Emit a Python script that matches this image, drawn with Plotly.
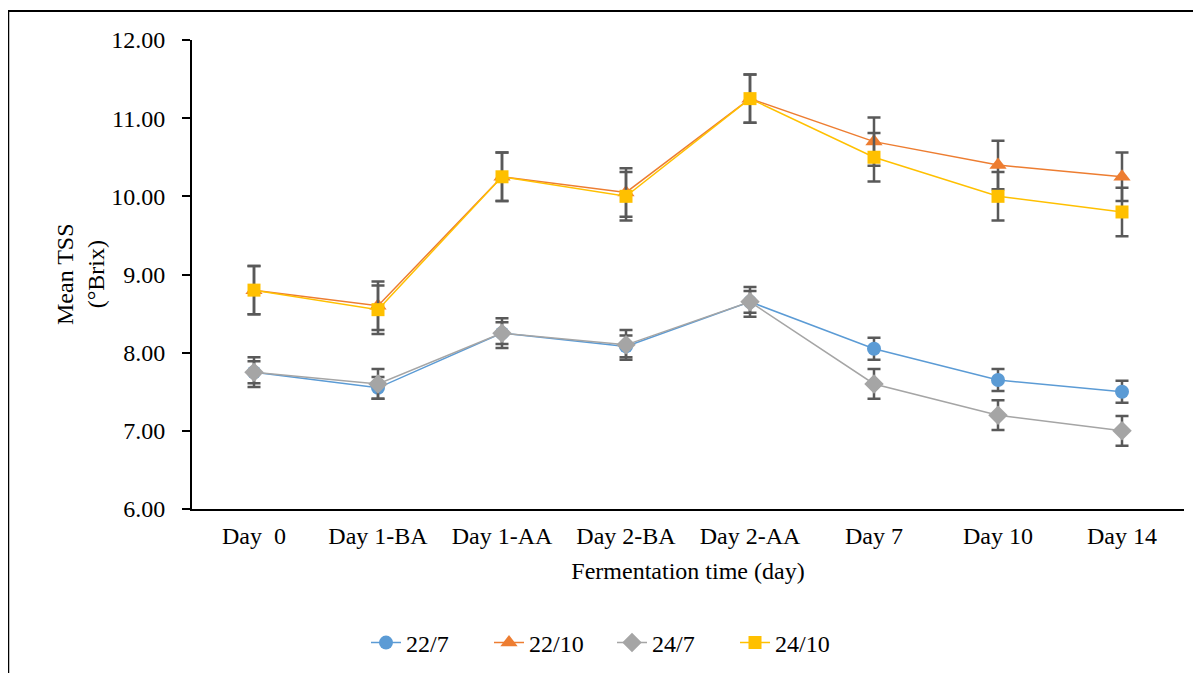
import plotly.graph_objects as go

categories = ["Day  0", "Day 1-BA", "Day 1-AA", "Day 2-BA", "Day 2-AA", "Day 7", "Day 10", "Day 14"]

s22_7 = [7.75, 7.55, 8.25, 8.08, 8.65, 8.05, 7.65, 7.50]
s22_10 = [8.80, 8.60, 10.25, 10.05, 11.25, 10.70, 10.40, 10.25]
s24_7 = [7.75, 7.60, 8.25, 8.10, 8.65, 7.60, 7.20, 7.00]
s24_10 = [8.80, 8.55, 10.25, 10.00, 11.25, 10.50, 10.00, 9.80]

err22_7 = [0.14, 0.14, 0.14, 0.14, 0.14, 0.14, 0.14, 0.14]
err22_10 = [0.31, 0.31, 0.31, 0.31, 0.31, 0.31, 0.31, 0.31]
err24_7 = [0.19, 0.19, 0.19, 0.19, 0.19, 0.19, 0.19, 0.19]
err24_10 = [0.31, 0.31, 0.31, 0.31, 0.31, 0.31, 0.31, 0.31]

series = [
    ("22/7", s22_7, err22_7, "#5B9BD5", "circle", 14),
    ("22/10", s22_10, err22_10, "#ED7D31", "triangle-up", 15),
    ("24/7", s24_7, err24_7, "#A5A5A5", "diamond", 15),
    ("24/10", s24_10, err24_10, "#FFC000", "square", 13),
]

FONT = "Liberation Serif, Times New Roman, serif"
FS = 24

fig = go.Figure()
for name, vals, err, color, sym, size in series:
    fig.add_trace(go.Scatter(
        x=categories, y=vals, name=name, mode="lines+markers",
        line=dict(color=color, width=1.5),
        marker=dict(color=color, symbol=sym, size=size),
        error_y=dict(type="data", array=err, visible=True, color="#595959",
                     thickness=2.5, width=6.5),
    ))

# page body has an 8px margin, so the figure is offset by 8px
OFF = 8
W, H = 1201 - OFF, 673 - OFF
PX0, PX1, PY0, PY1 = 192, 1184, 40, 509  # plot area in reference pixels
L, R, T, B = PX0 - OFF, W - (PX1 - OFF), PY0 - OFF, H - (PY1 - OFF)

def px_x(p):
    return (p - PX0) / (PX1 - PX0)

def px_y(p):
    return (PY1 - p) / (PY1 - PY0)

fig.update_layout(
    width=W, height=H,
    margin=dict(l=L, r=R, t=T, b=B, autoexpand=False),
    paper_bgcolor="white", plot_bgcolor="white",
    font=dict(family=FONT, size=FS, color="black"),
    showlegend=True,
    legend=dict(orientation="h", x=px_x(612), xanchor="center", y=px_y(643), yanchor="middle",
                font=dict(size=FS), traceorder="normal", entrywidth=78),
    xaxis=dict(
        type="category", showgrid=False, showline=True, linecolor="black", linewidth=2,
        ticks="", tickfont=dict(size=FS), range=[-0.5, 7.5],
        title=dict(text="Fermentation time (day)", font=dict(size=FS), standoff=14),
        ticklabelstandoff=4,
    ),
    yaxis=dict(
        range=[6, 12], dtick=1, tickformat=".2f", showgrid=False, zeroline=False,
        showline=True, linecolor="black", linewidth=2,
        ticks="outside", ticklen=8, tickwidth=2, tickcolor="black",
        tickfont=dict(size=FS), ticklabelstandoff=12,
    ),
    annotations=[
        dict(text="Mean TSS<br>(°Brix)", textangle=-90, xref="paper", yref="paper",
             x=px_x(80), y=px_y(274), xanchor="center", yanchor="middle",
             showarrow=False, font=dict(size=FS)),
    ],
    shapes=[
        dict(type="line", xref="paper", yref="paper", x0=px_x(8), x1=px_x(1215),
             y0=px_y(11), y1=px_y(11), line=dict(color="black", width=2)),
        dict(type="line", xref="paper", yref="paper", x0=px_x(8), x1=px_x(8),
             y0=px_y(11), y1=px_y(690), line=dict(color="black", width=2.5)),
    ],
)

fig.write_html("out.html")
